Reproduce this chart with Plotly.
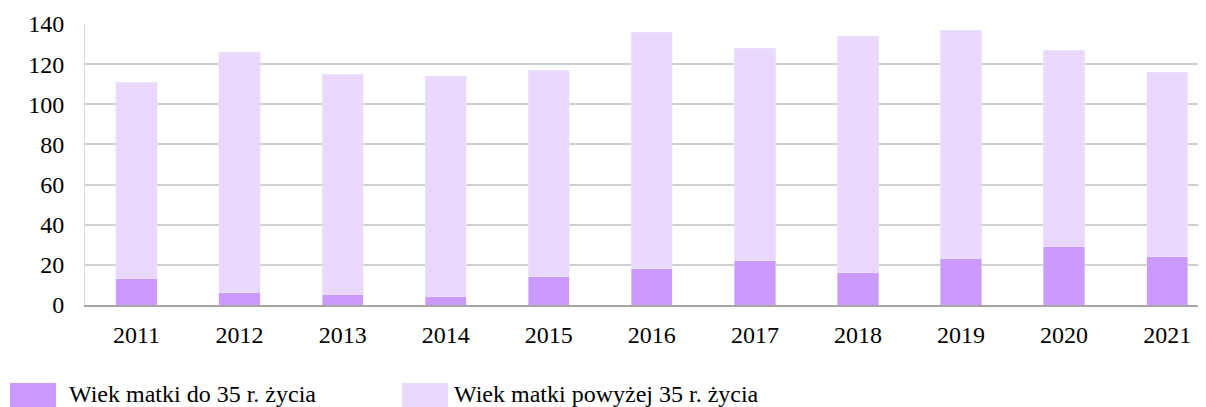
import plotly.graph_objects as go

# lata i liczby urodzen
years = ["2011", "2012", "2013", "2014", "2015", "2016", "2017", "2018", "2019", "2020", "2021"]
do_35 = [13, 6, 5, 4, 14, 18, 22, 16, 23, 29, 24]
razem = [111, 126, 115, 114, 117, 136, 128, 134, 137, 127, 116]
powyzej_35 = [r - d for r, d in zip(razem, do_35)]

names = ["Wiek matki do 35 r. życia", "Wiek matki powyżej 35 r. życia"]
colors = ["#CC99FF", "#EAD8FF"]

FONT = "Liberation Serif, Times New Roman, serif"

fig = go.Figure()
fig.add_trace(go.Bar(x=years, y=do_35, name=names[0], marker_color=colors[0]))
fig.add_trace(go.Bar(x=years, y=powyzej_35, name=names[1], marker_color=colors[1]))

# strona html ma margines 8px, wiec wykres jest o 8px mniejszy
fig.update_layout(
    barmode="stack",
    bargap=0.6,
    width=1198,
    height=399,
    margin=dict(l=77, r=0, t=16, b=102),
    plot_bgcolor="white",
    paper_bgcolor="white",
    showlegend=False,
    font=dict(family=FONT, size=24, color="black"),
)
fig.update_xaxes(
    range=[-0.5, 10.377],
    showline=True, linecolor="#A6A6A6", linewidth=2,
    ticks="", ticklabelstandoff=7,
)
fig.update_yaxes(
    range=[0, 140], dtick=20,
    showgrid=True, gridcolor="#CFCFCF", gridwidth=1.5,
    showline=True, linecolor="#D9D9D9", linewidth=1,
    zeroline=False, ticks="", ticklabelstandoff=15,
)

# legenda rysowana recznie (szerokie kwadraty jak w oryginale)
legend_x = [(-0.0669, -0.0259, -0.0160), (0.2828, 0.3238, 0.3274)]
for (x0, x1, xt), name, col in zip(legend_x, names, colors):
    fig.add_shape(type="rect", xref="paper", yref="paper", x0=x0, x1=x1,
                  y0=-0.40, y1=-0.2776, fillcolor=col, line_width=0)
    fig.add_annotation(text=name, xref="paper", yref="paper", x=xt, y=-0.318,
                       xanchor="left", yanchor="middle", showarrow=False,
                       font=dict(family=FONT, size=24, color="black"))

fig.write_html("out.html")
